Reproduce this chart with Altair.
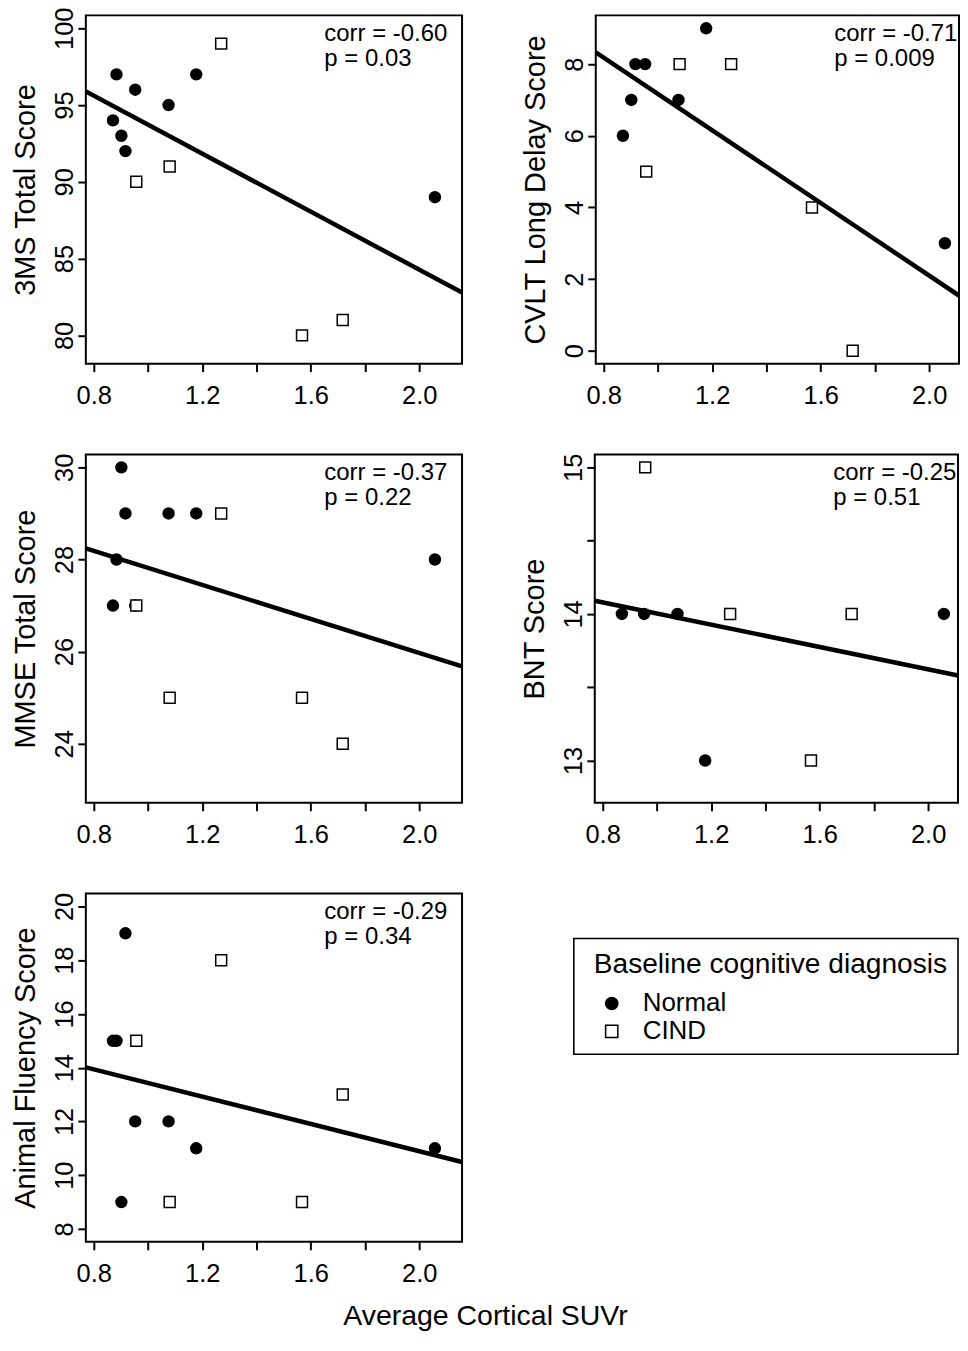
import altair as alt
import pandas as pd

FONT = "Liberation Sans"

# ---- data ----
suvr_normal = [0.871, 0.884, 0.902, 0.917, 0.953, 1.076, 1.178, 2.058]
suvr_cind = [0.957, 1.080, 1.270, 1.568, 1.718]

ms3_normal = [94, 97, 93, 92, 96, 95, 97, 89]
ms3_cind = [90, 91, 99, 80, 81]
cvlt_normal = [6, None, 7, 8, 8, 7, 9, 3]
cvlt_cind = [5, 8, 8, 4, 0]
mmse_normal = [27, 28, 30, 29, 27, 29, 29, 28]
mmse_cind = [27, 25, 29, 25, 24]
bnt_normal = [14, None, None, None, 14, 14, 13, 14]
bnt_cind = [15, None, 14, 13, 14]
flu_normal = [15, 15, 9, 19, 12, 12, 11, 11]
flu_cind = [15, 9, 18, 9, 13]

y_titles = ["3MS Total Score", "CVLT Long Delay Score", "MMSE Total Score",
            "BNT Score", "Animal Fluency Score"]
corr_labels = ["corr = -0.60", "corr = -0.71", "corr = -0.37", "corr = -0.25", "corr = -0.29"]
p_labels = ["p = 0.03", "p = 0.009", "p = 0.22", "p = 0.51", "p = 0.34"]
y_domains = [[78.16, 100.84], [-0.36, 9.36], [22.72, 30.28], [12.712, 15.088], [7.52, 20.48]]
y_ticks = [[80, 85, 90, 95, 100], [0, 2, 4, 6, 8], [24, 26, 28, 30],
           [13, 13.5, 14, 14.5, 15], [8, 10, 12, 14, 16, 18, 20]]
x_ticks = [0.8, 1.0, 1.2, 1.4, 1.6, 1.8, 2.0]
x_min = 0.771
x_max_left = 2.158
x_max_right = 2.110
fit_left = [95.89, 8.33, 28.24, 14.09, 14.01]
fit_right = [82.79, 1.54, 25.68, 13.58, 10.49]
groups = ["Normal", "CIND"]
legend_title = "Baseline cognitive diagnosis"
x_title = "Average Cortical SUVr"

PW_LEFT = 377
PW_RIGHT = 364
PH = 349


def panel(i, yn, yc, width, xmax, show_legend=False):
    rows = [dict(suvr=x, score=y, group="Normal") for x, y in zip(suvr_normal, yn) if y is not None]
    rows += [dict(suvr=x, score=y, group="CIND") for x, y in zip(suvr_cind, yc) if y is not None]
    df = pd.DataFrame(rows)
    xs = alt.Scale(domain=[x_min, xmax], nice=False, zero=False)
    ys = alt.Scale(domain=y_domains[i], nice=False, zero=False)
    xaxis = alt.Axis(values=x_ticks, title=None,
                     labelExpr="(round(datum.value*10) % 4 == 0) ? format(datum.value, '.1f') : ''",
                     labelPadding=12)
    yaxis = alt.Axis(values=y_ticks[i], title=y_titles[i], labelAngle=-90,
                     labelAlign="center", labelBaseline="bottom", labelPadding=0,
                     labelExpr="(datum.value % 1 == 0) ? format(datum.value, 'd') : ''",
                     titlePadding=12)
    if show_legend:
        legend = alt.Legend(orient="none", legendX=509, legendY=58, title=legend_title,
                            symbolStrokeWidth=1.5, titleLimit=600, labelLimit=300)
    else:
        legend = None
    pts = alt.Chart(df).mark_point(filled=True, strokeWidth=1.5,
                                   opacity=1, size=120).encode(
        x=alt.X("suvr:Q", scale=xs, axis=xaxis),
        y=alt.Y("score:Q", scale=ys, axis=yaxis),
        shape=alt.Shape("group:N", scale=alt.Scale(domain=groups, range=["circle", "square"]),
                        legend=legend, title=legend_title),
        fill=alt.Fill("group:N", scale=alt.Scale(domain=groups, range=["black", "white"]),
                      legend=legend, title=legend_title),
        stroke=alt.Stroke("group:N", scale=alt.Scale(domain=groups, range=["black", "black"]),
                          legend=legend, title=legend_title),
    )
    line_df = pd.DataFrame({"suvr": [x_min, xmax], "score": [fit_left[i], fit_right[i]]})
    line = alt.Chart(line_df).mark_line(color="black", strokeWidth=4.5, clip=True).encode(
        x=alt.X("suvr:Q", scale=xs, axis=xaxis),
        y=alt.Y("score:Q", scale=ys, axis=yaxis),
    )
    tdf = pd.DataFrame({"c": [corr_labels[i]], "p": [p_labels[i]]})
    t1 = alt.Chart(tdf).mark_text(align="left", baseline="alphabetic", fontSize=24,
                                  font=FONT, color="black").encode(
        x=alt.value(239), y=alt.value(26), text="c:N")
    t2 = alt.Chart(tdf).mark_text(align="left", baseline="alphabetic", fontSize=24,
                                  font=FONT, color="black").encode(
        x=alt.value(239), y=alt.value(51), text="p:N")
    layers = [pts, line, t1, t2]
    if show_legend:
        box = alt.Chart(tdf).mark_rect(fillOpacity=0, stroke="black", strokeWidth=1.6).encode(
            x=alt.value(489), x2=alt.value(874), y=alt.value(45), y2=alt.value(161))
        layers.append(box)
    return alt.layer(*layers).properties(width=width, height=PH)


p1 = panel(0, ms3_normal, ms3_cind, PW_LEFT, x_max_left)
p2 = panel(1, cvlt_normal, cvlt_cind, PW_RIGHT, x_max_right)
p3 = panel(2, mmse_normal, mmse_cind, PW_LEFT, x_max_left)
p4 = panel(3, bnt_normal, bnt_cind, PW_RIGHT, x_max_right)
p5 = panel(4, flu_normal, flu_cind, PW_LEFT, x_max_left, show_legend=True)

row1 = alt.hconcat(p1, p2, spacing=57)
row2 = alt.hconcat(p3, p4, spacing=57)

chart = alt.vconcat(row1, row2, p5, spacing=41).resolve_scale(
    shape="independent", fill="independent", stroke="independent"
).resolve_legend(shape="independent", fill="independent", stroke="independent").properties(
    title=alt.TitleParams(x_title, orient="bottom", anchor="middle",
                          fontSize=28.5, font=FONT, fontWeight="normal", color="black",
                          offset=14),
    padding={"left": 3, "top": -4, "right": 0, "bottom": 0},
).configure_view(
    stroke="black", strokeWidth=2
).configure_axis(
    labelFont=FONT, labelFontSize=25.5, labelColor="black",
    titleFont=FONT, titleFontSize=29, titleFontWeight="normal", titleColor="black",
    tickColor="black", tickWidth=2, tickSize=8, domain=False, grid=False,
    labelFlush=False, labelOverlap=False
).configure_legend(
    titleFont=FONT, titleFontSize=28.2, titleFontWeight="normal", titleColor="black",
    labelFont=FONT, labelFontSize=26, labelColor="black",
    strokeColor="transparent", padding=0, symbolSize=150,
    symbolOffset=5, labelOffset=18, rowPadding=2,
    titlePadding=11
)

chart.save("out.html", embed_options={"renderer": "svg", "actions": False})
